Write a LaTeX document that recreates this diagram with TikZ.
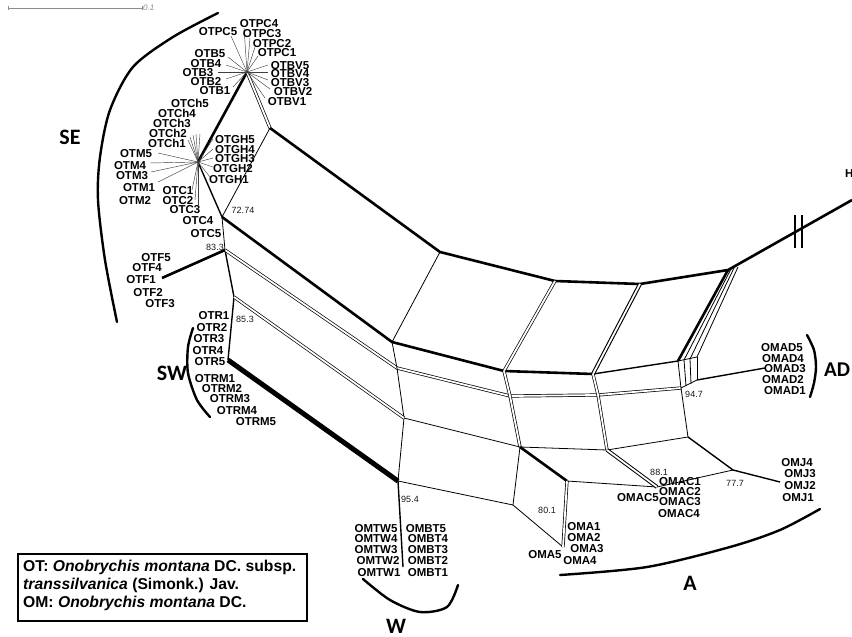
\documentclass[tikz,border=0pt]{standalone}
\usepackage{fontspec}
\setmainfont{Liberation Sans}
\newfontfamily\grpfont{Carlito}
\begin{document}
\begin{tikzpicture}[x=1pt,y=-1pt,
  lab/.style={font=\bfseries\fontsize{11.5}{11.5}\selectfont, inner sep=0pt, text height=8.2pt, text depth=0pt},
  num/.style={font=\fontsize{9}{9}\selectfont, inner sep=0pt, text=black!90},
  grp/.style={font=\grpfont\bfseries\fontsize{22}{22}\selectfont, inner sep=0pt, text height=14pt, text depth=0pt},
  legtxt/.style={font=\bfseries\fontsize{15.7}{15.7}\selectfont, inner sep=0pt, anchor=west},
  thk/.style={line width=2.6pt, line join=round},
  med/.style={line width=1.4pt, line join=round},
  thn/.style={line width=0.8pt, line join=round},
  dbl/.style={double, double distance=1.8pt, line width=0.7pt},
  pend/.style={line width=0.45pt, black!75},
  brk/.style={line width=2.4pt, line cap=round}]
\clip (0,0) rectangle (852,637);
\fill[white] (0,0) rectangle (852,637);

% scale bar
\coordinate (sb1) at (8,8); \coordinate (sb2) at (142,8);
\draw[black!45, line width=0.6pt] (sb1) -- (sb2);
\draw[black!45, line width=0.6pt] ([yshift=-2pt]sb1) -- ([yshift=2pt]sb1);
\draw[black!45, line width=0.6pt] ([yshift=-2pt]sb2) -- ([yshift=2pt]sb2);
\node[font=\itshape\fontsize{8}{8}\selectfont, text=black!45, anchor=west, inner sep=1pt] (sbl) at (sb2) {0.1};

% network vertices
\coordinate (hB) at (247,72);  \coordinate (hC) at (198,162);
\coordinate (a1) at (270,128); \coordinate (a2) at (440,252); \coordinate (a3) at (555,281);
\coordinate (a4) at (640,284); \coordinate (a5) at (728,270); \coordinate (aE) at (852,200);
\coordinate (a5m1) at (731,269); \coordinate (a5m2) at (734,268); \coordinate (a5r) at (738,267);
\coordinate (b0) at (222,217); \coordinate (b1) at (392,342); \coordinate (b2) at (504,371);
\coordinate (b3) at (593,374); \coordinate (b4) at (678,361);
\coordinate (b4m1) at (684,360); \coordinate (b4m2) at (690,359); \coordinate (b4r) at (697,357);
\coordinate (c0) at (225,250); \coordinate (c1) at (397,368); \coordinate (c2) at (510,396);
\coordinate (c3) at (598,395); \coordinate (c4) at (681,388);
\coordinate (c4m1) at (686,386); \coordinate (c4m2) at (691,384); \coordinate (c4r) at (697,380);
\coordinate (d0) at (234,297); \coordinate (d1) at (404,418); \coordinate (d2) at (520,447);
\coordinate (d3) at (607,450); \coordinate (d4) at (688,437);
\coordinate (e0) at (228,360); \coordinate (e1) at (398,481); \coordinate (e2) at (513,505);
\coordinate (eA) at (567,481); \coordinate (hA) at (563,547); \coordinate (hAC) at (657,487);
\coordinate (j1) at (733,470); \coordinate (hJ) at (780,482);
\coordinate (tAD) at (765,368); \coordinate (tW) at (403,567); \coordinate (tF) at (162,278);

% network edges
\draw[thk] (hB) -- (hC);
\draw[dbl] (hB) -- (a1);
\draw[thk] (a1) -- (a2) -- (a3) -- (a4) -- (a5) -- (aE);
\draw[med] (hC) -- (b0);
\draw[thn] (a1) -- (b0);
\draw[thk] (b0) -- (b1) -- (b2) -- (b3);
\draw[med] (b3) -- (b4);
\draw[thn] (a2) -- (b1);
\draw[dbl] (a3) -- (b2);
\draw[dbl, line width=1.1pt] (a4) -- (b3);
\draw[thn] (b0) -- (c0);
\draw[med] (c0) -- (d0) -- (e0);
\draw[dbl] (c0) -- (c1) -- (c2) -- (c3) -- (c4);
\draw[thn] (b1) -- (c1) -- (d1) -- (e1);
\draw[dbl] (b2) -- (c2) -- (d2);
\draw[dbl] (b3) -- (c3) -- (d3);
\draw[dbl] (d0) -- (d1);
\draw[thn] (d1) -- (d2) -- (d3) -- (d4);
\draw[thn] (c4) -- (d4);
\draw[line width=5pt] (e0) -- (e1);
\draw[med] (e1) -- (tW);
\draw[thn] (e1) -- (e2);
\draw[thn] (d2) -- (e2) -- (hA);
\draw[thk] (d2) -- (eA);
\draw[dbl] (eA) -- (hA);
\draw[thn] (eA) -- (hAC);
\draw[dbl, line width=1pt] (d3) -- (hAC);
\draw[thn] (hAC) -- (j1);
\draw[med] (d4) -- (j1) -- (hJ);
\draw[thk] (a5) -- (b4);
\draw[thn] (a5m1) -- (b4m1);
\draw[thn] (a5m2) -- (b4m2);
\draw[thn] (a5r) -- (b4r);
\draw[thn] (b4) -- (b4r);
\draw[thn] (b4) -- (c4);
\draw[thn] (b4m1) -- (c4m1);
\draw[thn] (b4m2) -- (c4m2);
\draw[thn] (b4r) -- (c4r);
\draw[thn] (c4) -- (c4r);
\draw[med] (c4r) -- (tAD);
\draw[thk] (c0) -- (tF);

% break mark
\coordinate (bk1t) at (795,215); \coordinate (bk1b) at (795,248);
\coordinate (bk2t) at (802,215); \coordinate (bk2b) at (802,248);
\draw[line width=2.2pt] (bk1t) -- (bk1b);
\draw[line width=2.2pt] (bk2t) -- (bk2b);
\node[lab, anchor=west] (Hout) at (845,173) {H};

% SE upper star
\foreach \n/\x/\y/\tx/\ty in {OTPC5/218/31/231/36, OTPC4/259/23/244/28, OTPC3/262/33/250/38,
  OTPC2/272/43/255/47, OTPC1/277/52/258/56, OTB5/210/53/228/57, OTB4/206/63/226/65,
  OTB3/198/72/218/72, OTB2/206/81/226/79, OTB1/215/90/233/87, OTBV5/290/65/268/65,
  OTBV4/290/73/268/72, OTBV3/290/82/268/80, OTBV2/293/91/270/89, OTBV1/287/101/265/98}{
  \coordinate (t\n) at (\tx,\ty);
  \draw[pend] (hB) -- (t\n);
  \node[lab] (\n) at (\x,\y) {\n};
}
% SE lower star
\foreach \n/\x/\y/\tx/\ty in {OTCh5/190/103/200/134, OTCh4/177/113/196/134, OTCh3/172/123/193/135,
  OTCh2/168/133/190/137, OTCh1/167/143/188/140, OTM5/136/153/158/153, OTM4/130/165/150/163,
  OTM3/132/175/151/172, OTM1/139/187/158/182, OTC1/178/190/192/190, OTC2/178/200/195/200,
  OTC3/185/209/198/205, OTGH5/235/139/213/139, OTGH4/235/149/213/149, OTGH3/235/158/213/158,
  OTGH2/233/168/213/167, OTGH1/229/179/210/177}{
  \coordinate (t\n) at (\tx,\ty);
  \draw[pend] (hC) -- (t\n);
  \node[lab] (\n) at (\x,\y) {\n};
}
% other labels
\foreach \n/\x/\y in {OTM2/135/200, OTC4/198/220, OTC5/206/233,
  OTF5/156/257, OTF4/147/267, OTF1/141/279, OTF2/148/292, OTF3/160/303,
  OTR1/214/315, OTR2/212/327, OTR3/209/338, OTR4/208/350, OTR5/210/361,
  OTRM1/215/378, OTRM2/222/388, OTRM3/230/398, OTRM4/237/410, OTRM5/256/421,
  OMTW5/376/528, OMTW4/376/538, OMTW3/376/549, OMTW2/378/560, OMTW1/379/572,
  OMBT5/426/528, OMBT4/428/538, OMBT3/428/549, OMBT2/428/560, OMBT1/428/572,
  OMA1/584/526, OMA2/584/537, OMA3/587/548, OMA4/580/560, OMA5/545/554,
  OMAC1/680/481, OMAC2/680/491, OMAC3/680/501, OMAC4/679/513, OMAC5/638/497,
  OMJ4/797/462, OMJ3/800/473, OMJ2/800/485, OMJ1/798/497,
  OMAD5/782/347, OMAD4/783/358, OMAD3/785/368, OMAD2/783/379, OMAD1/785/390}{
  \node[lab] (\n) at (\x,\y) {\n};
}

% support values
\node[num] (n7274) at (243,210) {72.74};
\node[num] (n833) at (215,247) {83.3};
\node[num] (n853) at (245,319) {85.3};
\node[num] (n954) at (410,499) {95.4};
\node[num] (n801) at (547,510) {80.1};
\node[num] (n881) at (659,472) {88.1};
\node[num] (n777) at (735,483) {77.7};
\node[num] (n947) at (694,394) {94.7};

% group brackets
\draw[brk] plot[smooth] coordinates {(218,13) (173,37) (133,67) (110,110) (100,157) (98,200) (105,260) (117,322)};
\draw[brk] plot[smooth] coordinates {(193,328) (188,347) (188,373) (197,400) (210,417)};
\draw[brk] plot[smooth] coordinates {(363,579) (390,600) (420,612) (447,607) (458,585)};
\draw[brk] plot[smooth] coordinates {(560,575) (647,567) (730,547) (780,530) (820,509)};
\draw[brk] plot[smooth] coordinates {(807,335) (814,350) (816,367) (814,383) (810,397)};
\node[grp] (gSE) at (70,137) {SE};
\node[grp] (gSW) at (172,373) {SW};
\node[grp] (gW) at (396,626) {W};
\node[grp] (gA) at (690,583) {A};
\node[grp, anchor=west, font=\grpfont\bfseries\fontsize{21}{21}\selectfont] (gAD) at (824,369) {AD};

% legend
\node[draw, line width=1.5pt, anchor=north west, inner sep=0pt, minimum width=289pt, minimum height=67pt] (leg) at (17,553) {};
\node[legtxt] (leg1) at (23,567) {OT: \textit{Onobrychis montana} DC. subsp.};
\node[legtxt] (leg2) at (23,585) {\textit{transsilvanica} (Simonk.) Jav.};
\node[legtxt] (leg3) at (23,603) {OM: \textit{Onobrychis montana} DC.};
\end{tikzpicture}
\end{document}
